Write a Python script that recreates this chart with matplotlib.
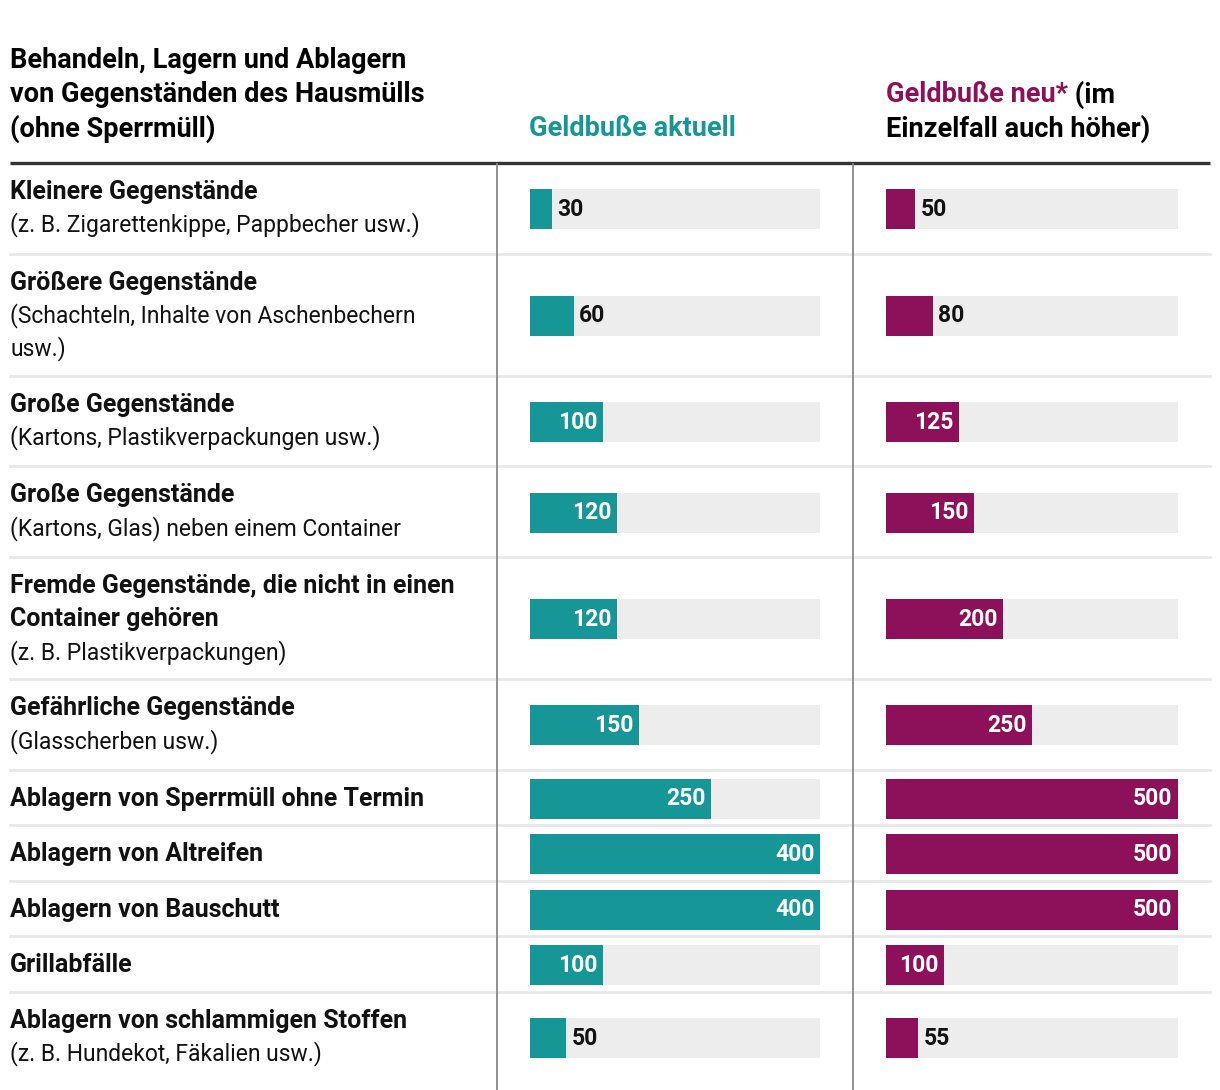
import matplotlib
matplotlib.use("Agg")
import matplotlib.pyplot as plt

plt.rcParams["font.family"] = ["Roboto", "DejaVu Sans"]

TEAL = "#169696"
MAGENTA = "#8C115A"
GRAU = "#ededed"

# Daten
titel = ["Behandeln, Lagern und Ablagern",
         "von Gegenständen des Hausmülls",
         "(ohne Sperrmüll)"]
kategorien = [
    "Kleinere Gegenstände",
    "Größere Gegenstände",
    "Große Gegenstände",
    "Große Gegenstände",
    "Fremde Gegenstände, die nicht in einen\nContainer gehören",
    "Gefährliche Gegenstände",
    "Ablagern von Sperrmüll ohne Termin",
    "Ablagern von Altreifen",
    "Ablagern von Bauschutt",
    "Grillabfälle",
    "Ablagern von schlammigen Stoffen",
]
beispiele = [
    "(z. B. Zigarettenkippe, Pappbecher usw.)",
    "(Schachteln, Inhalte von Aschenbechern\nusw.)",
    "(Kartons, Plastikverpackungen usw.)",
    "(Kartons, Glas) neben einem Container",
    "(z. B. Plastikverpackungen)",
    "(Glasscherben usw.)",
    "",
    "",
    "",
    "",
    "(z. B. Hundekot, Fäkalien usw.)",
]
bussgeld_aktuell = [30, 60, 100, 120, 120, 150, 250, 400, 400, 100, 50]
bussgeld_neu = [50, 80, 125, 150, 200, 250, 500, 500, 500, 100, 55]
max_aktuell = 400
max_neu = 500

W, H = 1220, 1090
fig = plt.figure(figsize=(W / 100, H / 100), dpi=100)
ax = fig.add_axes([0, 0, 1, 1])
ax.set_xlim(0, W)
ax.set_ylim(H, 0)
ax.axis("off")

FS_KOPF = 19.5
FS_BOLD = 18
FS_REG = 16.5
LS = 34
ZEILENHOEHE = {1: 55.5, 2: 90.7, 3: 122}

# Kopfzeile
for i, t in enumerate(titel):
    ax.text(10, 61 + i * LS, t, fontsize=FS_KOPF, fontweight="bold", va="center", ha="left")
ax.text(529, 129, "Geldbuße aktuell", fontsize=FS_KOPF, fontweight="bold",
        color=TEAL, va="center", ha="left")
t1 = ax.text(886, 95, "Geldbuße neu*", fontsize=FS_KOPF, fontweight="bold",
             color=MAGENTA, va="center", ha="left")
ax.annotate(" (im", xy=(1, 0.5), xycoords=t1, fontsize=FS_KOPF, fontweight="bold",
            va="center", ha="left")
ax.text(886, 129, "Einzelfall auch höher)", fontsize=FS_KOPF, fontweight="bold",
        va="center", ha="left")

top = 163
ax.plot([10, 1210], [top, top], color="#333333", lw=2.4, solid_capstyle="butt")

# Zeilen berechnen
zentren = []
y = top
for k, b in zip(kategorien, beispiele):
    zeilen = [(z, "bold") for z in k.split("\n")]
    if b:
        zeilen += [(z, "normal") for z in b.split("\n")]
    hoehe = ZEILENHOEHE[len(zeilen)]
    for j, (z, gew) in enumerate(zeilen):
        ax.text(10, y + 29 + j * 33, z,
                fontsize=FS_BOLD if gew == "bold" else FS_REG,
                fontweight=gew,
                color="#111111", va="center", ha="left")
    zentren.append(y + hoehe / 2 + 1)
    y += hoehe
    if y < H - 20:
        ax.plot([10, 1210], [y, y], color="#e8e8e8", lw=2, zorder=0)

for xv in (497, 853):
    ax.plot([xv, xv], [top + 1, H], color="#888888", lw=1.3)

# Balken
def balken(links, breite, maximum, werte, farbe):
    bx = fig.add_axes([links / W, 0, breite / W, 1])
    bx.set_xlim(0, maximum)
    bx.set_ylim(H, 0)
    bx.axis("off")
    bx.patch.set_alpha(0)
    bx.barh(zentren, [maximum] * len(werte), height=40, color=GRAU, lw=0)
    bx.barh(zentren, werte, height=40, color=farbe, lw=0)
    for yc, v in zip(zentren, werte):
        if v / maximum < 0.18:
            bx.annotate(str(v), xy=(v, yc), xytext=(4, 0), textcoords="offset points",
                        fontsize=16.5, fontweight="bold", color="#111111",
                        va="center", ha="left")
        else:
            bx.annotate(str(v), xy=(v, yc), xytext=(-4, 0), textcoords="offset points",
                        fontsize=16.5, fontweight="bold", color="white",
                        va="center", ha="right")

balken(530, 290, max_aktuell, bussgeld_aktuell, TEAL)
balken(886, 292, max_neu, bussgeld_neu, MAGENTA)

fig.savefig("out.png", dpi=100)
